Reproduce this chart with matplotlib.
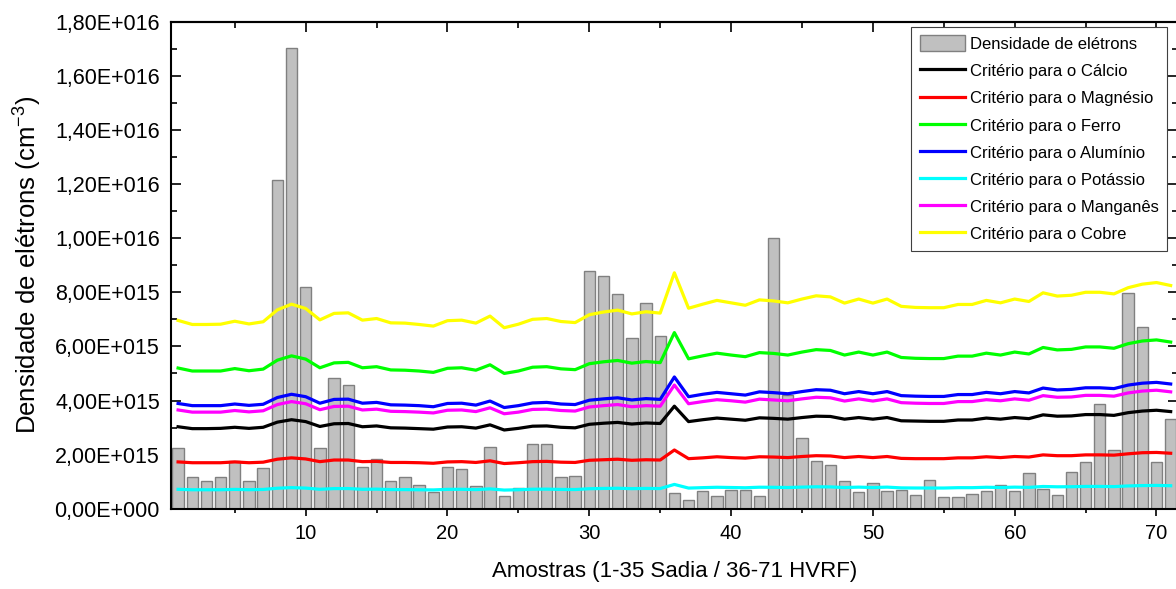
import numpy as np
import matplotlib
matplotlib.use("Agg")
import matplotlib.pyplot as plt
from matplotlib.ticker import FuncFormatter, MultipleLocator
from matplotlib.patches import Patch
from matplotlib.lines import Line2D

plt.rcParams['font.family'] = ['Liberation Sans', 'DejaVu Sans']
plt.rcParams['mathtext.fontset'] = 'custom'
plt.rcParams['mathtext.rm'] = 'Liberation Sans'

# Sample index (1-35 Sadia / 36-71 HVRF)
amostras = list(range(1, 72))

# Electron density per sample, in units of 1e15 cm^-3
densidade = [
    2.23, 1.17, 1.03, 1.16, 1.77, 1.03, 1.50, 12.14, 17.04, 8.18,
    2.23, 4.84, 4.58, 1.55, 1.83, 1.01, 1.18, 0.89, 0.63, 1.56,
    1.45, 0.84, 2.27, 0.47, 0.78, 2.38, 2.39, 1.19, 1.21, 8.78,
    8.60, 7.93, 6.31, 7.60, 6.40, 0.58, 0.33, 0.65, 0.46, 0.71,
    0.69, 0.48, 10.02, 4.20, 2.62, 1.77, 1.60, 1.01, 0.63, 0.96,
    0.67, 0.69, 0.50, 1.06, 0.42, 0.43, 0.54, 0.67, 0.89, 0.65,
    1.33, 0.74, 0.50, 1.35, 1.71, 3.87, 2.17, 7.96, 6.71, 1.72,
    3.30,
]

# McWhirter criterion per element, in units of 1e15 cm^-3
calcio = [
    3.03, 2.96, 2.96, 2.97, 3.01, 2.97, 3.01, 3.20, 3.29, 3.22,
    3.04, 3.14, 3.15, 3.03, 3.06, 2.99, 2.98, 2.96, 2.94, 3.02,
    3.03, 2.98, 3.10, 2.91, 2.97, 3.05, 3.06, 3.01, 2.99, 3.12,
    3.16, 3.19, 3.13, 3.17, 3.15, 3.79, 3.22, 3.29, 3.35, 3.31,
    3.27, 3.36, 3.34, 3.31, 3.37, 3.42, 3.41, 3.31, 3.37, 3.31,
    3.37, 3.25, 3.24, 3.23, 3.23, 3.28, 3.28, 3.35, 3.31, 3.37,
    3.33, 3.47, 3.42, 3.43, 3.48, 3.48, 3.45, 3.55, 3.61, 3.64,
    3.59,
]
magnesio = [
    1.73, 1.70, 1.70, 1.70, 1.73, 1.70, 1.72, 1.83, 1.88, 1.84,
    1.74, 1.80, 1.80, 1.74, 1.75, 1.71, 1.71, 1.70, 1.68, 1.73,
    1.74, 1.71, 1.77, 1.67, 1.70, 1.74, 1.75, 1.72, 1.71, 1.79,
    1.81, 1.83, 1.79, 1.81, 1.80, 2.17, 1.85, 1.88, 1.92, 1.89,
    1.87, 1.92, 1.91, 1.89, 1.93, 1.96, 1.95, 1.89, 1.93, 1.89,
    1.93, 1.86, 1.85, 1.85, 1.85, 1.88, 1.88, 1.92, 1.89, 1.93,
    1.91, 1.99, 1.96, 1.96, 1.99, 1.99, 1.98, 2.03, 2.07, 2.08,
    2.05,
]
ferro = [
    5.20, 5.09, 5.09, 5.09, 5.18, 5.10, 5.16, 5.49, 5.65, 5.53,
    5.21, 5.39, 5.41, 5.21, 5.25, 5.13, 5.12, 5.09, 5.04, 5.19,
    5.21, 5.12, 5.32, 5.00, 5.09, 5.23, 5.25, 5.17, 5.14, 5.36,
    5.43, 5.48, 5.38, 5.44, 5.40, 6.51, 5.54, 5.65, 5.75, 5.68,
    5.62, 5.77, 5.74, 5.68, 5.79, 5.88, 5.85, 5.68, 5.79, 5.68,
    5.79, 5.59, 5.56, 5.55, 5.55, 5.64, 5.64, 5.75, 5.68, 5.79,
    5.72, 5.96, 5.87, 5.89, 5.98, 5.98, 5.93, 6.10, 6.20, 6.24,
    6.16,
]
aluminio = [
    3.89, 3.81, 3.81, 3.81, 3.87, 3.82, 3.86, 4.11, 4.23, 4.14,
    3.90, 4.04, 4.05, 3.90, 3.93, 3.84, 3.83, 3.81, 3.77, 3.89,
    3.90, 3.83, 3.98, 3.74, 3.81, 3.91, 3.93, 3.87, 3.85, 4.01,
    4.06, 4.10, 4.02, 4.07, 4.04, 4.87, 4.14, 4.23, 4.30, 4.25,
    4.20, 4.32, 4.29, 4.25, 4.33, 4.40, 4.38, 4.25, 4.33, 4.25,
    4.33, 4.18, 4.16, 4.15, 4.15, 4.22, 4.22, 4.30, 4.25, 4.33,
    4.28, 4.46, 4.39, 4.41, 4.47, 4.47, 4.44, 4.57, 4.64, 4.67,
    4.61,
]
potassio = [
    0.717, 0.701, 0.701, 0.702, 0.714, 0.703, 0.712, 0.757, 0.779, 0.762,
    0.719, 0.744, 0.746, 0.718, 0.724, 0.708, 0.707, 0.701, 0.695, 0.716,
    0.718, 0.707, 0.733, 0.689, 0.702, 0.721, 0.724, 0.713, 0.709, 0.739,
    0.749, 0.756, 0.742, 0.750, 0.745, 0.898, 0.763, 0.779, 0.793, 0.784,
    0.775, 0.795, 0.791, 0.784, 0.798, 0.811, 0.806, 0.783, 0.798, 0.783,
    0.798, 0.770, 0.766, 0.765, 0.765, 0.778, 0.778, 0.793, 0.784, 0.798,
    0.789, 0.822, 0.810, 0.813, 0.824, 0.824, 0.818, 0.842, 0.855, 0.861,
    0.850,
]
manganes = [
    3.65, 3.57, 3.57, 3.57, 3.63, 3.58, 3.62, 3.85, 3.96, 3.88,
    3.66, 3.78, 3.79, 3.65, 3.68, 3.60, 3.59, 3.57, 3.54, 3.64,
    3.65, 3.59, 3.73, 3.51, 3.57, 3.67, 3.68, 3.63, 3.61, 3.76,
    3.81, 3.85, 3.77, 3.81, 3.79, 4.57, 3.88, 3.96, 4.03, 3.99,
    3.94, 4.05, 4.02, 3.99, 4.06, 4.12, 4.10, 3.98, 4.06, 3.98,
    4.06, 3.92, 3.90, 3.89, 3.89, 3.96, 3.96, 4.03, 3.99, 4.06,
    4.01, 4.18, 4.12, 4.13, 4.19, 4.19, 4.16, 4.28, 4.35, 4.38,
    4.32,
]
cobre = [
    6.96, 6.81, 6.81, 6.82, 6.93, 6.83, 6.91, 7.35, 7.56, 7.40,
    6.98, 7.22, 7.24, 6.97, 7.03, 6.87, 6.86, 6.81, 6.75, 6.95,
    6.97, 6.86, 7.12, 6.69, 6.82, 7.00, 7.03, 6.92, 6.88, 7.17,
    7.27, 7.34, 7.20, 7.28, 7.23, 8.72, 7.41, 7.56, 7.70, 7.61,
    7.52, 7.72, 7.68, 7.61, 7.75, 7.87, 7.83, 7.60, 7.75, 7.60,
    7.75, 7.48, 7.44, 7.43, 7.43, 7.55, 7.55, 7.70, 7.61, 7.75,
    7.66, 7.98, 7.86, 7.89, 8.00, 8.00, 7.94, 8.17, 8.30, 8.36,
    8.25,
]

escala = 1e15
series = [
    ("Critério para o Cálcio", calcio, "#000000"),
    ("Critério para o Magnésio", magnesio, "#FF0000"),
    ("Critério para o Ferro", ferro, "#00FF00"),
    ("Critério para o Alumínio", aluminio, "#0000FF"),
    ("Critério para o Potássio", potassio, "#00FFFF"),
    ("Critério para o Manganês", manganes, "#FF00FF"),
    ("Critério para o Cobre", cobre, "#FFFF00"),
]

fig = plt.figure(figsize=(11.76, 5.89), dpi=100)
ax = fig.add_axes([0.1454, 0.1363, 0.8561, 0.8268])

x = np.array(amostras)
ax.bar(x, np.array(densidade) * escala, width=0.8, color="#C0C0C0",
       edgecolor="#808080", linewidth=1.0, zorder=2)

for nome, vals, cor in series:
    ax.plot(x, np.array(vals) * escala, color=cor, linewidth=2.3, zorder=3)

ax.set_xlim(0.5, 71.5)
ax.set_ylim(0, 1.8e16)

ax.xaxis.set_major_locator(MultipleLocator(10))
ax.xaxis.set_minor_locator(MultipleLocator(5))
ax.yaxis.set_major_locator(MultipleLocator(2e15))
ax.yaxis.set_minor_locator(MultipleLocator(1e15))


def fmt_sci(v, pos):
    if v == 0:
        return "0,00E+000"
    exp = int(np.floor(np.log10(abs(v))))
    mant = v / 10 ** exp
    return f"{mant:.2f}".replace(".", ",") + f"E+{exp:03d}"


ax.yaxis.set_major_formatter(FuncFormatter(fmt_sci))

ax.tick_params(axis="x", which="both", direction="out", top=False,
               labelsize=14.5, width=1.2, pad=6)
ax.tick_params(axis="x", which="major", length=5)
ax.tick_params(axis="x", which="minor", length=3)
ax.tick_params(axis="y", which="both", direction="in", right=True,
               labelsize=15.5, width=1.2, pad=8)
ax.tick_params(axis="y", which="major", length=7)
ax.tick_params(axis="y", which="minor", length=4)

# Top axis ticks pointing into the plot
sec = ax.secondary_xaxis("top")
sec.xaxis.set_major_locator(MultipleLocator(10))
sec.xaxis.set_minor_locator(MultipleLocator(5))
sec.tick_params(axis="x", which="both", direction="in", labeltop=False,
                width=1.2)
sec.tick_params(axis="x", which="major", length=7)
sec.tick_params(axis="x", which="minor", length=4)
sec.spines["top"].set_linewidth(1.5)

for s in ax.spines.values():
    s.set_linewidth(1.5)

ax.set_xlabel("Amostras (1-35 Sadia / 36-71 HVRF)", fontsize=16, labelpad=13)
ax.set_ylabel(r"Densidade de elétrons (cm$^{\mathregular{-3}}$)",
              fontsize=18.5, labelpad=8)

handles = [Patch(facecolor="#C0C0C0", edgecolor="#808080",
                 label="Densidade de elétrons")]
handles += [Line2D([], [], color=cor, linewidth=2.3, label=nome)
            for nome, _, cor in series]
leg = ax.legend(handles=handles, loc="upper right",
                bbox_to_anchor=(1167 / 1176, 1 - 27 / 589),
                bbox_transform=fig.transFigure, borderaxespad=0,
                fontsize=12, frameon=True, fancybox=False, framealpha=1,
                handlelength=2.7, handleheight=1.1, labelspacing=0.63,
                borderpad=0.5, handletextpad=0.3)
leg.get_frame().set_edgecolor("#404040")
leg.get_frame().set_linewidth(0.8)

fig.savefig("out.png", dpi=100)
